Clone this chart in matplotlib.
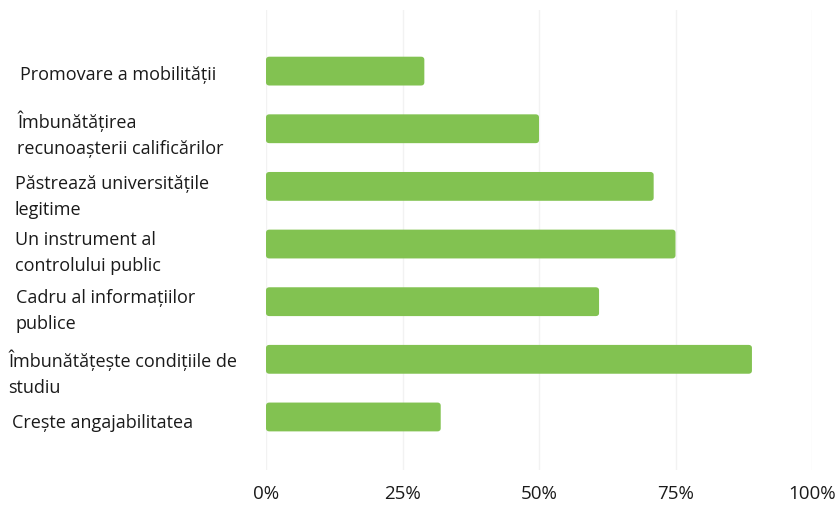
import matplotlib
matplotlib.use("Agg")
import matplotlib.pyplot as plt
from matplotlib.patches import FancyBboxPatch
from matplotlib.transforms import blended_transform_factory

plt.rcParams["font.family"] = ["Open Sans", "DejaVu Sans"]

# data (top to bottom)
labels = [
    "Promovare a mobilității",
    "Îmbunătățirea\nrecunoașterii calificărilor",
    "Păstrează universitățile\nlegitime",
    "Un instrument al\ncontrolului public",
    "Cadru al informațiilor\npublice",
    "Îmbunătățește condițiile de\nstudiu",
    "Crește angajabilitatea",
]
values = [29, 50, 71, 75, 61, 89, 32]
ticks = [0, 25, 50, 75, 100]
tick_labels = ["0%", "25%", "50%", "75%", "100%"]

# label layout (pixel x from left, vertical nudge in data units)
label_x = [20, 17, 15, 15, 16, 8, 12]
label_dy = [0.07, 0.09, 0.19, 0.16, 0.16, 0.24, 0.10]

GREEN = "#82c251"

fig = plt.figure(figsize=(8.37, 5.05), dpi=100)
ax = fig.add_axes([266 / 837, 35 / 505, 546 / 837, 460 / 505])

ypos = list(range(len(values)))
bars = ax.barh(ypos, values, height=0.5, color=GREEN)

# swap plain bars for rounded ones
for b in bars:
    x0, y0 = b.get_x(), b.get_y()
    w, h = b.get_width(), b.get_height()
    ax.add_patch(FancyBboxPatch((x0, y0), w, h,
                                boxstyle="round,pad=0,rounding_size=0.6",
                                mutation_aspect=0.09,
                                facecolor=GREEN, edgecolor="none", zorder=3))
    b.set_visible(False)

ax.set_xlim(0, 100)
ax.set_ylim(len(values) - 1 + 0.92, -1.06)
ax.set_xticks(ticks)
ax.set_xticklabels(tick_labels)
ax.set_yticks([])
ax.tick_params(axis="x", length=0, pad=11, labelsize=13.5, labelcolor="#1a1a1a")
ax.grid(axis="x", color="#f2f2f2", linewidth=1)
ax.set_axisbelow(True)
for s in ax.spines.values():
    s.set_visible(False)

tr = blended_transform_factory(fig.transFigure, ax.transData)
for i, lab in enumerate(labels):
    ax.text(label_x[i] / 837, ypos[i] + label_dy[i], lab, transform=tr,
            ha="left", va="center", fontsize=13, color="#1a1a1a",
            linespacing=1.55)

fig.savefig("out.png", dpi=100)
